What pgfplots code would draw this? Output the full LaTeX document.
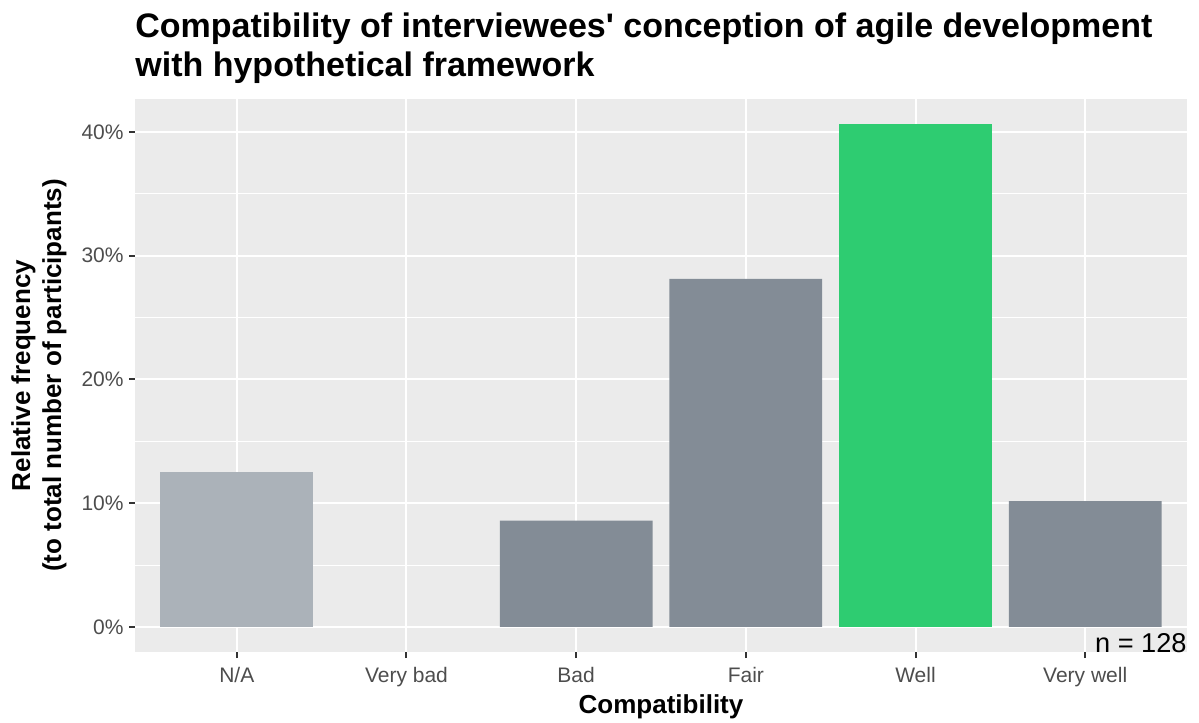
\documentclass[border=0pt]{standalone}
\usepackage{pgfplots}
\pgfplotsset{compat=1.18}
\usepackage{fontspec}
\setmainfont{Liberation Sans}
\usetikzlibrary{calc}

\definecolor{panelbg}{HTML}{EBEBEB}
\definecolor{barlight}{HTML}{ABB2B9}
\definecolor{bardark}{HTML}{838C96}
\definecolor{bargreen}{HTML}{2ECC71}
\definecolor{ticktext}{HTML}{4D4D4D}
\definecolor{tickmark}{HTML}{333333}

\begin{document}
\begin{tikzpicture}
\begin{axis}[
  name=ax,
  scale only axis,
  width=526pt, height=276.5pt,
  xmin=-0.6, xmax=5.6,
  ymin=-2.03, ymax=42.66,
  axis line style={draw=none},
  axis background/.style={fill=panelbg},
  xtick={0,1,2,3,4,5},
  xticklabels={N/A,Very bad,Bad,Fair,Well,Very well},
  ytick={0,10,20,30,40},
  minor ytick={5,15,25,35},
  yticklabel={\pgfmathprintnumber{\tick}\%},
  /pgf/number format/assume math mode=true,
  grid=both,
  major grid style={white, line width=1pt},
  minor grid style={white, line width=0.5pt},
  tick align=outside,
  major tick length=3pt,
  minor tick length=0pt,
  tick style={tickmark, line width=1pt},
  xtick pos=bottom, ytick pos=left,
  tick label style={ticktext, font=\fontsize{10.5pt}{12pt}\selectfont, inner sep=0pt},
  yticklabel style={anchor=east, xshift=-2.5pt},
  xticklabel style={anchor=north, yshift=-4.5pt},
  xlabel={Compatibility},
  xlabel style={at={(axis description cs:0.5,0)}, anchor=base, yshift=-30.5pt,
    inner sep=0pt, font=\bfseries\fontsize{13pt}{15.5pt}\selectfont},
  ylabel={Relative frequency\\(to total number of participants)},
  every axis y label/.style={at={(axis description cs:-0.0646,0.5)}, rotate=90,
    anchor=south, align=center, inner sep=0pt,
    font=\bfseries\fontsize{13pt}{15.5pt}\selectfont},
  clip=false,
]
% N/A
\addplot[ybar, bar width=0.9, bar shift=0pt, fill=barlight, draw=none]
  coordinates {(0,12.5)};
% Very bad = 0 (no bar), Bad, Fair, Very well
\addplot[ybar, bar width=0.9, bar shift=0pt, fill=bardark, draw=none]
  coordinates {(2,8.59) (3,28.13) (5,10.16)};
% Well
\addplot[ybar, bar width=0.9, bar shift=0pt, fill=bargreen, draw=none]
  coordinates {(4,40.63)};
\node[anchor=base east, inner sep=0pt, font=\fontsize{13.6pt}{16pt}\selectfont]
  at (rel axis cs:1,0) {n = 128};
\node[anchor=base west, inner sep=0pt, font=\bfseries\fontsize{17pt}{20pt}\selectfont]
  at (rel axis cs:0,1) [yshift=30.5pt] {Compatibility of interviewees\textquotesingle{} conception of agile development};
\node[anchor=base west, inner sep=0pt, font=\bfseries\fontsize{17pt}{20pt}\selectfont]
  at (rel axis cs:0,1) [yshift=11pt] {with hypothetical framework};
\end{axis}
\path ($(ax.south west)+(-67.5pt,-35pt)$) rectangle ($(ax.north east)+(6pt,49.5pt)$);
\end{tikzpicture}
\end{document}
